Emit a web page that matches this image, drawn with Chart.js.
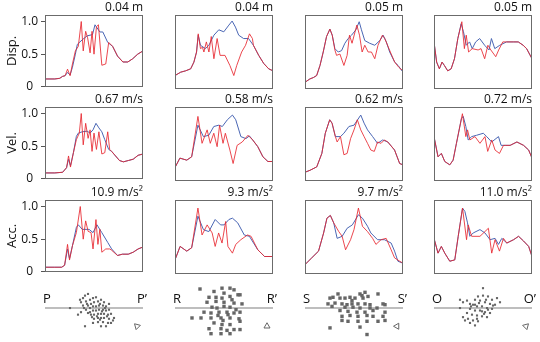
<!DOCTYPE html>
<html>
<head>
<meta charset="utf-8">
<script src="https://cdn.jsdelivr.net/npm/chart.js@4.4.1/dist/chart.umd.min.js"></script>
<style>
  body { margin: 0; background: #fff; }
  #wrap { position: relative; width: 540px; height: 342px; overflow: hidden; }
  #wrap canvas { position: absolute; }
</style>
</head>
<body>
<div id="wrap"></div>
<script>
// ---- data ----
const rowNames = ['Disp.', 'Vel.', 'Acc.'];
const sections = ['P', 'R', 'S', 'O'];
const peakLabels = [
  ['0.04 m', '0.04 m', '0.05 m', '0.05 m'],
  ['0.67 m/s', '0.58 m/s', '0.62 m/s', '0.72 m/s'],
  ['10.9 m/s²', '9.3 m/s²', '9.7 m/s²', '11.0 m/s²']
];
const yTicks = [0, 0.5, 1.0];

// [position along profile 0-100, normalised value]
const dispP_blue = [[0,.12],[10,.12],[15,.13],[18,.16],[20.5,.17],[23,.22],[25.6,.18],[28,.3],[31,.5],[33,.65],[38,.72],[43,.78],[48.5,.8],[51,.95],[56,.84],[59,.84],[64,.68],[69,.62],[74,.47],[79.5,.38],[84.5,.38],[89.5,.43],[94.6,.5],[100,.55]];
const dispP_red = [[0,.12],[10,.12],[15,.13],[18,.16],[20.5,.17],[23,.27],[25.6,.17],[28,.35],[31,.55],[34,.62],[37,1.0],[39,.55],[41.5,.85],[43.5,.75],[46,.52],[48,.85],[50,.5],[52.5,.92],[54.5,.95],[58,.33],[62,.35],[65,.68],[69,.62],[74,.47],[79.5,.38],[84.5,.38],[89.5,.43],[94.6,.5],[100,.55]];
const velP_blue = [[0,.09],[10,.09],[18,.1],[22,.17],[24,.3],[26,.2],[29,.4],[32,.65],[34,.7],[38,.72],[43,.73],[46,.7],[49,.75],[52,.85],[55,.78],[58,.72],[61,.6],[65,.45],[68,.42],[72,.35],[76,.28],[80,.26],[85,.28],[90,.3],[95,.36],[100,.38]];
const velP_red = [[0,.09],[10,.09],[18,.1],[22,.17],[24,.35],[26,.18],[29,.4],[32,.6],[35,.7],[37,1.0],[39,.52],[41.5,.85],[44,.62],[46,.75],[48,.42],[50,.7],[52.5,.45],[55,.72],[58,.38],[61,.4],[64,.72],[66,.45],[68,.42],[72,.35],[76,.28],[80,.26],[85,.28],[90,.3],[95,.36],[100,.38]];
const accP_blue = [[0,.07],[10,.07],[17,.07],[20,.1],[23,.35],[25,.2],[28,.4],[32,.68],[34,.72],[38,.65],[45,.65],[49,.6],[53,.72],[58,.6],[64,.45],[68,.35],[74,.25],[79,.27],[85,.27],[90,.3],[95,.35],[100,.38]];
const accP_red = [[0,.07],[10,.07],[17,.07],[20,.1],[23,.42],[25,.18],[28,.4],[32,.6],[36,1.0],[39,.5],[41.5,.78],[44,.62],[47,.6],[49,.35],[52,.8],[54,.42],[56,.65],[58,.3],[62,.35],[66,.35],[68,.33],[74,.25],[79,.27],[85,.27],[90,.3],[95,.35],[100,.38]];

const dispR_blue = [[0,.2],[5.8,.25],[10.8,.27],[16,.3],[19.3,.4],[22,.55],[23.7,.8],[26,.65],[31,.6],[34.6,.65],[39.7,.8],[44.7,.88],[49.8,.85],[55,.95],[58.3,1.01],[61.7,.92],[65,.8],[70,.75],[75,.75],[80,.65],[85.4,.5],[90.5,.38],[95.6,.3],[100,.27]];
const dispR_red = [[0,.2],[5.8,.25],[10.8,.27],[16,.3],[19.3,.4],[22,.55],[23.7,.82],[26,.6],[28,.62],[29.5,.55],[32,.7],[34.6,.55],[37,.78],[39.7,.45],[43,.75],[46,.5],[51,.5],[56,.35],[60,.2],[63,.35],[68,.55],[72,.65],[76,.82],[79,.75],[80,.65],[85.4,.5],[90.5,.38],[95.6,.3],[100,.27]];
const velR_blue = [[0,.2],[5,.34],[12,.31],[17,.36],[23.4,.83],[29,.66],[34.5,.68],[39.6,.81],[44.8,.83],[48.3,.81],[53.4,.91],[58.6,.98],[62,.91],[67.2,.66],[72.4,.63],[75.9,.67],[79.3,.61],[84.5,.51],[89.7,.36],[94.8,.29],[100,.29]];
const velR_red = [[0,.2],[5,.34],[12,.31],[17,.36],[23.4,.96],[27.6,.56],[32.8,.76],[36,.56],[39.6,.71],[43,.51],[45.5,.83],[49,.56],[51.4,.71],[56,.46],[59.3,.26],[63.4,.53],[68.6,.58],[74.5,.68],[79.3,.61],[84.5,.51],[89.7,.36],[94.8,.29],[100,.29]];
const accR_blue = [[0,.21],[5.2,.41],[12,.34],[17,.39],[23.4,.86],[29,.66],[34.5,.63],[41,.81],[46.5,.73],[50,.73],[55,.81],[58.6,.83],[64,.76],[70.7,.58],[75.9,.56],[84.5,.36],[91.4,.26],[100,.26]];
const accR_red = [[0,.21],[5.2,.41],[12,.34],[17,.39],[23.4,.98],[27.6,.58],[32.8,.73],[37.9,.61],[41,.41],[44.5,.61],[48,.46],[51.7,.78],[54,.41],[58.6,.31],[62,.44],[67.2,.51],[74,.58],[77.6,.56],[84.5,.36],[91.4,.26],[100,.26]];

const dispS_blue = [[0,.1],[5,.15],[8.5,.17],[11.9,.2],[15.3,.35],[18.6,.55],[22,.78],[25.4,.89],[27.8,.8],[30.5,.6],[33.9,.55],[37.3,.57],[40.7,.68],[44,.75],[47.5,.8],[51.9,.88],[55.3,1.0],[57.6,.88],[61,.72],[66,.68],[71.2,.65],[76.3,.72],[79.7,.8],[83,.7],[86.4,.55],[91.5,.4],[95,.35],[100,.25]];
const dispS_red = [[0,.1],[5,.15],[8.5,.17],[11.9,.2],[15.3,.35],[18.6,.55],[22,.78],[25.4,.89],[27.8,.8],[30.5,.58],[32.2,.5],[35.6,.52],[39.7,.35],[43,.5],[45.4,.8],[48,.68],[52.9,.95],[55.6,.8],[58.3,.55],[61,.65],[64.4,.55],[67.8,.55],[71.2,.45],[74.5,.65],[79,.8],[81.4,.75],[87.1,.55],[91.5,.4],[95.9,.32],[100,.27]];
const velS_blue = [[0,.13],[5.2,.16],[12,.21],[17.2,.41],[20.7,.71],[25.2,.91],[27.6,.86],[31,.66],[36.2,.66],[39.7,.71],[44.8,.81],[50,.83],[56.9,.98],[60.3,.86],[63.8,.76],[69,.66],[74,.56],[79.3,.61],[84.5,.58],[91.4,.46],[96.6,.26],[100,.24]];
const velS_red = [[0,.13],[5.2,.16],[12,.21],[17.2,.41],[20.7,.71],[25.2,.91],[27.6,.86],[31,.66],[32.8,.58],[36.2,.66],[39.7,.39],[43,.41],[46.5,.63],[50,.76],[53.4,.91],[56.9,.76],[60.3,.66],[63.8,.56],[67.2,.46],[70.7,.44],[74,.58],[77.6,.56],[81,.61],[84.5,.58],[91.4,.46],[96.6,.26],[100,.24]];
const accS_blue = [[0,.14],[6.9,.24],[13.8,.34],[19,.61],[22.4,.83],[25.9,.87],[29.3,.76],[32.8,.53],[37.9,.56],[43,.68],[48.3,.73],[54.5,.88],[58.6,.83],[63.8,.71],[67.2,.61],[74,.51],[81,.51],[87.9,.46],[91.4,.34],[94.8,.19],[100,.16]];
const accS_red = [[0,.14],[6.9,.24],[13.8,.34],[19,.61],[22.4,.83],[25.9,.87],[29.3,.76],[34.5,.63],[37.9,.56],[41.4,.36],[46.5,.51],[50,.66],[54.5,.98],[58.6,.71],[63.8,.63],[69,.53],[72.4,.44],[77.6,.51],[82.8,.53],[87.9,.36],[91.4,.24],[96.6,.19],[100,.16]];

const dispO_blue = [[0,.7],[2.7,.4],[5.5,.3],[8.2,.4],[10.6,.35],[14,.27],[17.5,.3],[20.9,.45],[24.3,.75],[27.7,.97],[30.1,.85],[32.9,.65],[36.3,.7],[39,.6],[42.5,.7],[46.6,.75],[51.7,.65],[56.2,.58],[58.6,.75],[62,.6],[67.1,.65],[74,.7],[80.8,.7],[86,.7],[91,.65],[94.5,.6],[100,.45]];
const dispO_red = [[0,.7],[2.7,.4],[5.5,.3],[8.2,.4],[10.6,.35],[14,.27],[17.5,.3],[20.9,.45],[24.3,.75],[28.4,1.0],[31,.6],[32.9,.8],[35.3,.55],[39,.6],[45,.58],[48,.6],[51.7,.45],[55,.65],[58,.58],[63,.48],[66,.58],[70.2,.7],[74,.7],[80.8,.7],[86,.7],[91,.65],[94.5,.6],[100,.45]];
const velO_blue = [[0,.66],[4.1,.36],[7.5,.41],[11,.29],[16.1,.24],[19.5,.31],[22.9,.56],[28,.93],[29.8,.96],[32.5,.81],[34.9,.61],[38.4,.66],[43.5,.68],[50.3,.71],[53.8,.66],[58.9,.58],[65.8,.66],[68.5,.53],[72.6,.53],[77.7,.53],[84.6,.58],[91.4,.53],[96.6,.46],[100,.34]];
const velO_red = [[0,.66],[4.1,.36],[7.5,.41],[11,.29],[16.1,.24],[19.5,.31],[22.9,.56],[29,1.0],[32.5,.66],[34.2,.76],[36.6,.61],[41.8,.66],[46.9,.56],[52,.66],[54.8,.44],[58.9,.61],[62.3,.46],[66.8,.41],[70.9,.53],[72.6,.53],[77.7,.53],[84.6,.58],[91.4,.53],[96.6,.46],[100,.34]];
const accO_blue = [[0,.53],[4.1,.31],[7.5,.41],[11,.31],[16.1,.19],[21.2,.21],[24.7,.56],[29.1,.98],[31.5,.93],[34.2,.76],[36.6,.56],[40,.61],[46.9,.66],[52,.61],[57.2,.51],[62.3,.53],[65.8,.44],[69.2,.53],[74.3,.46],[81.2,.51],[86.3,.56],[91.4,.49],[96.6,.41],[100,.26]];
const accO_red = [[0,.53],[4.1,.31],[7.5,.41],[11,.31],[16.1,.19],[21.2,.21],[24.7,.56],[29.1,.98],[33.2,.51],[34.9,.73],[38.4,.56],[46.9,.56],[55.5,.68],[58.9,.31],[62.3,.51],[66.8,.34],[70.9,.53],[74.3,.46],[81.2,.51],[86.3,.56],[91.4,.49],[96.6,.41],[100,.26]];

// cross-section point clouds (offset along section, offset across it)
const crossP = [[-14,10],[-11,12],[-9,15],[-6,17],[-13,7],[-8,8],[-4,10],[-1,12],[-11,3],[-6,3],[-3,5],[0,7],[4,8],[7,10],[10,7],[-8,-2],[-4,0],[-1,2],[2,2],[5,3],[9,3],[12,2],[15,5],[-4,-5],[-1,-3],[2,-3],[5,-2],[9,-2],[12,-3],[15,-2],[-3,-8],[0,-8],[4,-7],[7,-7],[10,-7],[14,-8],[17,-7],[0,-13],[4,-12],[7,-12],[10,-12],[15,-13],[19,-15],[4,-17],[9,-17],[14,-18],[17,-18],[7,-22],[12,-22],[-9,-22],[-24,0],[20,-12],[-1,-18],[-16,-8],[-13,-5],[2,13],[-6,-6],[6,-14],[-10,0],[-7,5],[3,-10],[8,-4],[11,0],[-2,-11],[13,-10],[6,5]];
const crossR = [[-24,23],[-2,24],[6,24],[10,22],[14,16],[-15,13],[-8,13],[-2,12],[6,14],[16,16],[-17,7],[-8,8],[0,7],[10,6],[18,5],[6,1],[-7,0],[0,2],[-20,-5],[-13,-6],[-5,-5],[3,-5],[10,-6],[16,-5],[-32,-12],[-23,-12],[-13,-12],[-3,-12],[6,-12],[15,-13],[-10,-18],[-2,-20],[6,-20],[16,-16],[-15,-25],[-3,-25],[10,-26],[16,-26],[-13,-31],[-3,-31],[6,-31],[-10,20],[0,18],[4,-8],[-6,-9],[12,-2],[-1,-15],[8,10],[-12,1],[3,-27]];
const crossS = [[-16,17],[-24,12],[-21,13],[-14,12],[-9,12],[-4,13],[1,12],[6,17],[11,19],[14,14],[9,12],[24,17],[-26,5],[-19,6],[-12,5],[-7,4],[-2,5],[4,5],[11,5],[16,4],[29,5],[31,4],[-22,2],[-9,1],[-1,1],[6,0],[16,0],[23,0],[-14,-3],[-6,-4],[3,-5],[11,-5],[19,-3],[31,-5],[-12,-10],[-4,-9],[4,-10],[13,-9],[19,-10],[29,-10],[-12,-15],[-6,-16],[4,-16],[13,-16],[24,-16],[31,-15],[-24,-24],[6,-23],[13,-32],[8,15],[-2,9]];
const crossO = [[-23,10],[-20,7],[-16,9],[-13,5],[-8,10],[-5,14],[0,15],[5,14],[9,10],[14,12],[17,7],[-3,9],[2,7],[7,5],[12,4],[-10,4],[-6,2],[-1,2],[4,0],[9,-1],[-13,-1],[-8,-3],[-3,-3],[2,-5],[7,-6],[-16,-6],[-11,-8],[-6,-9],[-1,-10],[4,-11],[-20,-11],[-15,-13],[-10,-15],[-5,-16],[-13,-18],[-8,-21],[-18,-15],[0,24],[-23,0],[10,3],[-4,6],[1,-7],[-8,4],[-1,-4],[5,-2],[-12,2],[3,10],[-6,-13]];

// ---- layout ----
const colLeft = [45, 175, 305, 434];
const rowTop = [15, 107, 200];
const boxW = 98, boxH = 74;
const FONT = 'Open Sans, Noto Sans, sans-serif';
const wrap = document.getElementById('wrap');

const series = {
  0: { P: [dispP_blue, dispP_red], R: [dispR_blue, dispR_red], S: [dispS_blue, dispS_red], O: [dispO_blue, dispO_red] },
  1: { P: [velP_blue, velP_red], R: [velR_blue, velR_red], S: [velS_blue, velS_red], O: [velO_blue, velO_red] },
  2: { P: [accP_blue, accP_red], R: [accR_blue, accR_red], S: [accS_blue, accS_red], O: [accO_blue, accO_red] }
};
const clouds = { P: crossP, R: crossR, S: crossS, O: crossO };

function addCanvas(left, top, w, h) {
  const cv = document.createElement('canvas');
  cv.width = w; cv.height = h;
  cv.style.left = left + 'px'; cv.style.top = top + 'px';
  cv.style.width = w + 'px'; cv.style.height = h + 'px';
  wrap.appendChild(cv);
  return cv;
}

const frame = {
  id: 'frame',
  afterDatasetsDraw(chart, args, opts) {
    const a = chart.chartArea, ctx = chart.ctx;
    ctx.save();
    ctx.strokeStyle = '#6b6b6b';
    ctx.lineWidth = 1;
    ctx.strokeRect(Math.round(a.left) + 0.5, Math.round(a.top) + 0.5,
      Math.round(a.right - a.left) - 1, Math.round(a.bottom - a.top) - 1);
    ctx.fillStyle = '#111';
    ctx.font = '12px ' + FONT;
    ctx.textAlign = 'right';
    ctx.textBaseline = 'alphabetic';
    ctx.fillText(opts.text, a.right, a.top - 4);
    ctx.restore();
  }
};

const pts = arr => arr.map(p => ({ x: p[0], y: p[1] }));

function makePanel(r, c) {
  const first = c === 0;
  const left = first ? 0 : colLeft[c] - 4;
  const top = rowTop[r] - 16;
  const w = colLeft[c] + boxW + 4 - left;
  const h = boxH + 16 + 8;
  const cv = addCanvas(left, top, w, h);
  const [blue, red] = series[r][sections[c]];
  const yScale = {
    min: 0, max: 1.1, display: first,
    afterBuildTicks(s) { s.ticks = yTicks.map(v => ({ value: v })); },
    ticks: {
      font: { family: FONT, size: 12 }, color: '#111', padding: 3, crossAlign: 'center',
      callback: v => (v === 0 ? '0' : v.toFixed(1))
    },
    grid: { drawOnChartArea: false, tickLength: 4, color: '#555' },
    border: { display: false },
    title: { display: true, text: rowNames[r], font: { family: FONT, size: 13 }, color: '#111', padding: { top: 4, bottom: 0 } }
  };
  if (first) yScale.afterFit = s => { s.width = 45; };
  new Chart(cv, {
    type: 'line',
    data: {
      datasets: [
        { data: pts(red), borderColor: 'rgba(232,40,48,0.85)', borderWidth: 1, pointRadius: 0, order: 0 },
        { data: pts(blue), borderColor: '#4a66b4', borderWidth: 1, pointRadius: 0, order: 1 }
      ]
    },
    options: {
      responsive: false, animation: false, events: [],
      layout: { padding: { left: first ? 0 : 4, right: 4, top: 16, bottom: 8 } },
      plugins: { legend: { display: false }, tooltip: { enabled: false }, frame: { text: peakLabels[r][c] } },
      scales: {
        x: { type: 'linear', min: 0, max: 100, display: false },
        y: yScale
      }
    },
    plugins: [frame]
  });
}

for (let r = 0; r < 3; r++) for (let c = 0; c < 4; c++) makePanel(r, c);

// section clouds along the bottom
const arrows = { P: -45, R: 0, S: -90, O: 45 };
const ends = {
  id: 'ends',
  afterDraw(chart, args, opts) {
    const a = chart.chartArea, ctx = chart.ctx;
    const y0 = chart.scales.y.getPixelForValue(0);
    ctx.save();
    ctx.fillStyle = '#111';
    ctx.font = '13px ' + FONT;
    ctx.textBaseline = 'alphabetic';
    ctx.textAlign = 'left';
    ctx.fillText(opts.name, a.left - 2, y0 - 5);
    ctx.textAlign = 'right';
    ctx.fillText(opts.name + '’', a.right + 4, y0 - 5);
    ctx.restore();
  }
};

sections.forEach((s, c) => {
  const left = colLeft[c] - 6;
  const cv = addCanvas(left, 284, boxW + 16, 58);
  const big = s === 'R' || s === 'S';
  new Chart(cv, {
    type: 'scatter',
    data: {
      datasets: [
        { type: 'line', data: [{ x: -49, y: 0 }, { x: 49, y: 0 }], borderColor: '#a8a8a8', borderWidth: 1.6, pointRadius: 0, order: 2 },
        { data: pts(clouds[s]), pointStyle: 'rect', pointRadius: big ? 2.4 : 1.5, backgroundColor: '#666', borderWidth: 0, order: 1 },
        { data: [{ x: 43, y: -22 }], pointStyle: 'triangle', pointRadius: 3.5, rotation: arrows[s], backgroundColor: '#fff', borderColor: '#666', borderWidth: 1, order: 0 }
      ]
    },
    options: {
      responsive: false, animation: false, events: [],
      clip: false,
      layout: { padding: { left: 6, right: 10, top: 0, bottom: 0 } },
      plugins: { legend: { display: false }, tooltip: { enabled: false }, ends: { name: s } },
      scales: {
        x: { type: 'linear', min: -49, max: 49, display: false },
        y: { type: 'linear', min: -35, max: 23, display: false }
      }
    },
    plugins: [ends]
  });
});
</script>
</body>
</html>
